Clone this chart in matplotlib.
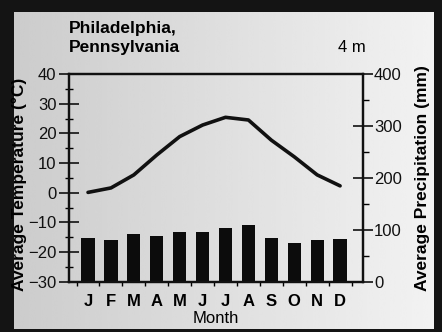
import numpy as np
import matplotlib
matplotlib.use("Agg")
import matplotlib.pyplot as plt

months = ['J', 'F', 'M', 'A', 'M', 'J', 'J', 'A', 'S', 'O', 'N', 'D']
temp_c = [0.1, 1.6, 6.0, 12.7, 18.9, 22.8, 25.4, 24.5, 17.7, 12.1, 6.0, 2.3]
precip_mm = [85, 80, 91, 88, 95, 95, 104, 109, 85, 75, 80, 82]

plt.rcParams['font.family'] = ['Liberation Sans', 'DejaVu Sans']

W, H = 442, 332
fig = plt.figure(figsize=(W / 100, H / 100), dpi=100)
fig.patch.set_facecolor('#141414')

# paper (photo of a printed page) with a slight left-dark gradient
paper = fig.add_axes([14 / W, (H - 329) / H, (434 - 14) / W, (329 - 12) / H])
paper.set_axis_off()
grad = np.linspace(0.80, 0.95, 256).reshape(1, -1)
paper.imshow(grad, cmap='gray', vmin=0, vmax=1, aspect='auto',
             extent=(0, 1, 0, 1), interpolation='bicubic')
paper.set_xlim(0, 1)
paper.set_ylim(0, 1)

x = np.arange(len(months))

ax = fig.add_axes([69 / W, (H - 281.7) / H, (363 - 69) / W, (281.7 - 74) / H])
ax.patch.set_alpha(0)
ax2 = ax.twinx()

# precipitation bars
ax2.bar(x, precip_mm, width=0.58, color='#0c0c0c', zorder=2)
ax2.set_ylim(0, 400)

# temperature line
ax.plot(x, temp_c, color='#111111', lw=2.6, solid_joinstyle='round',
        solid_capstyle='round', zorder=3)
ax.set_ylim(-30, 40)
ax.set_xlim(-0.83, 12.0)
ax.set_zorder(ax2.get_zorder() + 1)

for a in (ax, ax2):
    for s in a.spines.values():
        s.set_linewidth(1.6)
        s.set_color('#111111')

# left axis ticks
ax.set_yticks(np.arange(-30, 41, 10))
ax.set_yticks(np.arange(-30, 41, 5), minor=True)
ax.tick_params(axis='y', which='major', direction='inout', length=14,
               width=1.2, labelsize=12, pad=2, colors='#111111')
ax.tick_params(axis='y', which='minor', direction='inout', length=6, width=1.0)

# bottom ticks: small marks between months
ax.set_xticks(x)
ax.set_xticklabels(months, fontweight='bold')
ax.set_xticks(np.append(x - 0.5, 11.5), minor=True)
ax.tick_params(axis='x', which='major', length=0, labelsize=12, pad=9)
ax.tick_params(axis='x', which='minor', direction='out', length=3, width=1.0)

# right axis ticks
ax2.set_yticks(np.arange(0, 401, 100))
ax2.set_yticks(np.arange(0, 401, 50), minor=True)
ax2.tick_params(axis='y', which='major', direction='inout', length=14,
                width=1.2, labelsize=12, pad=1, colors='#111111')
ax2.tick_params(axis='y', which='minor', direction='out', length=4, width=1.0)

ax.set_xlabel('Month', fontsize=12, labelpad=1)
ax.set_ylabel('Average Temperature (°C)', fontsize=12.5, fontweight='bold')
ax.yaxis.set_label_coords(-0.143, 0.47)
ax2.set_ylabel('Average Precipitation (mm)', fontsize=12.5, fontweight='bold',
               rotation=90)
ax2.yaxis.set_label_coords(1.178, 0.5)

fig.text(69 / W, 1 - 33 / H, 'Philadelphia,', fontsize=12.5,
         fontweight='bold', ha='left', va='baseline')
fig.text(69 / W, 1 - 52 / H, 'Pennsylvania', fontsize=12.5,
         fontweight='bold', ha='left', va='baseline')
fig.text(366 / W, 1 - 52 / H, '4 m', fontsize=12, ha='right',
         va='baseline')

fig.savefig('out.png', dpi=100, facecolor=fig.get_facecolor())
